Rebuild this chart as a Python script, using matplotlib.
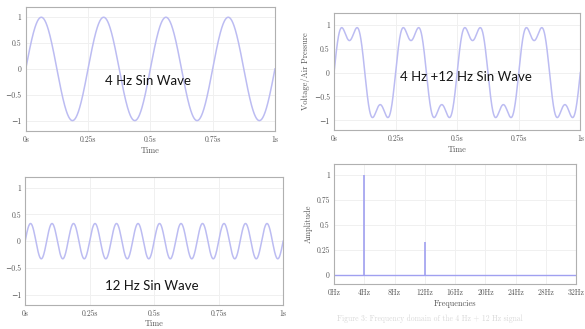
import matplotlib.pyplot as plt
import numpy as np

# ---------------------------------- DATA -----------------------------------------
wave_freqs = [4, 12]            # Hz
wave_amps = [1.0, 0.33]         # amplitude of each component
time_ticks = [0, 0.25, 0.5, 0.75, 1]
time_labels = ['0s', '0.25s', '0.5s', '0.75s', '1s']
wave_yticks = [-1, -0.5, 0, 0.5, 1]
wave_ylabels = ['\u22121', '\u22120.5', '0', '0.5', '1']
freq_ticks = [0, 4, 8, 12, 16, 20, 24, 28, 32]
freq_labels = ['0Hz', '4Hz', '8Hz', '12Hz', '16Hz', '20Hz', '24Hz', '28Hz', '32Hz']
amp_ticks = [0, 0.25, 0.5, 0.75, 1]
amp_labels = ['0', '0.25', '0.5', '0.75', '1']

t = np.linspace(0, 1, 1000)
low = wave_amps[0] * np.sin(2 * np.pi * wave_freqs[0] * t)
high = wave_amps[1] * np.sin(2 * np.pi * wave_freqs[1] * t)
both = low + high

# ---------------------------------- STYLE -----------------------------------------
plt.rcParams['font.family'] = ['cmr10', 'DejaVu Serif']
plt.rcParams['axes.unicode_minus'] = False

line_col = '#bcbcf2'
spec_col = '#a0a0f0'
grid_col = '#f0f0f0'
frame_col = '#b0b0b0'
tick_col = '#555555'
note_font = ['Lato', 'DejaVu Sans']

fig = plt.figure(figsize=(5.85, 3.29), dpi=100)


def style(ax, xt, xl, yt, yl):
    ax.set_xticks(xt)
    ax.set_xticklabels(xl)
    ax.set_yticks(yt)
    ax.set_yticklabels(yl)
    ax.tick_params(length=0, labelsize=5.5, colors=tick_col, pad=3)
    ax.grid(color=grid_col, linewidth=0.7)
    ax.set_axisbelow(True)
    for s in ax.spines.values():
        s.set_color(frame_col)
        s.set_linewidth(0.8)


# top left: 4 Hz
ax1 = fig.add_axes([0.044, 0.602, 0.426, 0.377])
ax1.plot(t, low, color=line_col, lw=1.1)
ax1.set_xlim(0, 1)
ax1.set_ylim(-1.2, 1.2)
style(ax1, time_ticks, time_labels, wave_yticks, wave_ylabels)
ax1.set_xlabel('Time', fontsize=6, color=tick_col, labelpad=2)
ax1.text(0.49, 0.4, '4 Hz Sin Wave', transform=ax1.transAxes, ha='center', va='center',
         fontsize=9.5, family=note_font, color='#151515')

# top right: 4 Hz + 12 Hz
ax2 = fig.add_axes([0.571, 0.605, 0.421, 0.356])
ax2.plot(t, both, color=line_col, lw=1.1)
ax2.set_xlim(0, 1)
ax2.set_ylim(-1.2, 1.25)
style(ax2, time_ticks, time_labels, wave_yticks, wave_ylabels)
ax2.set_xlabel('Time', fontsize=6, color=tick_col, labelpad=2)
ax2.set_ylabel('Voltage/Air Pressure', fontsize=6, color=tick_col, labelpad=3)
ax2.text(0.534, 0.45, '4 Hz +12 Hz Sin Wave', transform=ax2.transAxes, ha='center', va='center',
         fontsize=9.5, family=note_font, color='#151515')

# bottom left: 12 Hz
ax3 = fig.add_axes([0.043, 0.072, 0.441, 0.39])
ax3.plot(t, high, color=line_col, lw=1.1)
ax3.set_xlim(0, 1)
ax3.set_ylim(-1.2, 1.2)
style(ax3, time_ticks, time_labels, wave_yticks, wave_ylabels)
ax3.set_xlabel('Time', fontsize=6, color=tick_col, labelpad=1)
ax3.text(0.49, 0.15, '12 Hz Sin Wave', transform=ax3.transAxes, ha='center', va='center',
         fontsize=9.5, family=note_font, color='#151515')

# bottom right: spectrum
ax4 = fig.add_axes([0.571, 0.137, 0.414, 0.365])
ax4.axhline(0, color=spec_col, lw=1.0)
ax4.vlines(wave_freqs, 0, wave_amps, color=spec_col, lw=1.2)
ax4.set_xlim(0, 32)
ax4.set_ylim(-0.09, 1.11)
style(ax4, freq_ticks, freq_labels, amp_ticks, amp_labels)
ax4.set_xlabel('Frequencies', fontsize=6, color=tick_col, labelpad=2)
ax4.set_ylabel('Amplitude', fontsize=6, color=tick_col, labelpad=3)

fig.text(0.735, 0.03, 'Figure 3: Frequency domain of the 4 Hz + 12 Hz signal',
         ha='center', va='center', fontsize=5.5, color='#d8d8d8')

fig.savefig('out.png', dpi=100)
